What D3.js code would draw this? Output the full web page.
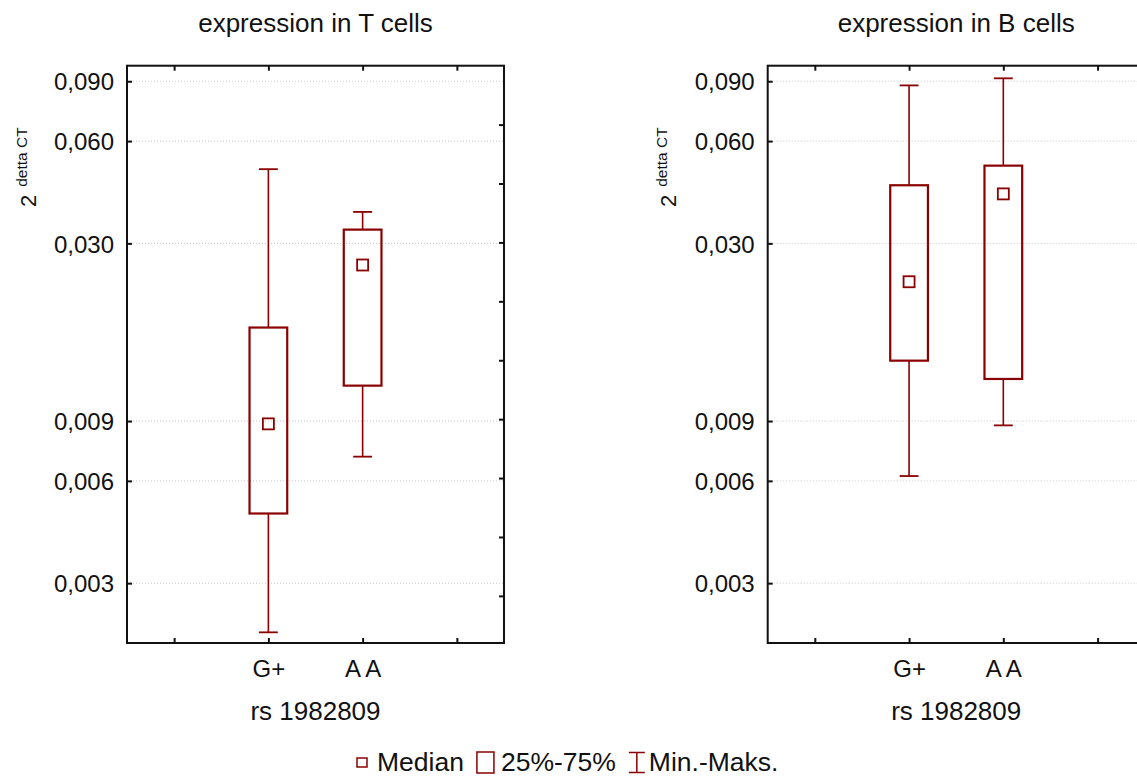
<!DOCTYPE html>
<html>
<head>
<meta charset="utf-8">
<script src="https://cdn.jsdelivr.net/npm/d3@7"></script>
<style>
  html, body { margin: 0; padding: 0; background: #fff; }
  svg { display: block; font-family: "Liberation Sans", Arial, sans-serif; }
</style>
</head>
<body>
<svg id="chart" width="1137" height="776"></svg>
<script>
// ---------- data ----------
const categories = ["G+", "A A"];
const panelTitles = ["expression in T cells", "expression in B cells"];
const xAxisTitle = "rs 1982809";

// T cells
const tMin = [0.00215, 0.00707];
const tQ1  = [0.00481, 0.01144];
const tMed = [0.00883, 0.02591];
const tQ3  = [0.01696, 0.03293];
const tMax = [0.0496, 0.03713];

// B cells
const bMin = [0.0062, 0.00874];
const bQ1  = [0.01355, 0.01197];
const bMed = [0.02313, 0.04195];
const bQ3  = [0.04448, 0.0508];
const bMax = [0.0875, 0.0918];

const yTicks = [0.003, 0.006, 0.009, 0.03, 0.06, 0.09];
const yTickLabels = ["0,003", "0,006", "0,009", "0,030", "0,060", "0,090"];
const yDomain = [0.002, 0.1];
const legendLabels = ["Median", "25%-75%", "Min.-Maks."];

// ---------- layout ----------
const color = "#8b0000";
const svg = d3.select("#chart");
const plotW = 377, plotH = 577.3, plotTop = 65.7;
const panelLeft = [127, 767.7];

const panels = [
  { title: panelTitles[0], min: tMin, q1: tQ1, med: tMed, q3: tQ3, max: tMax },
  { title: panelTitles[1], min: bMin, q1: bQ1, med: bMed, q3: bQ3, max: bMax }
];

panels.forEach((p, pi) => {
  const g = svg.append("g").attr("transform", `translate(${panelLeft[pi]},${plotTop})`);
  const y = d3.scaleLog().domain(yDomain).range([plotH, 0]);
  const yLin = d3.scaleLinear().domain(yDomain).range([plotH, 0]);
  const x = d3.scaleLinear().domain([0, 4]).range([0, plotW]);
  const catPos = categories.map((c, i) => i + 1.5);
  const frameTicks = [0.5, 1.5, 2.5, 3.5];

  // grid
  g.append("g").selectAll("line").data(yTicks).join("line")
    .attr("x1", 0).attr("x2", plotW)
    .attr("y1", d => y(d)).attr("y2", d => y(d))
    .attr("stroke", "#c8c8c8").attr("stroke-width", 1)
    .attr("stroke-dasharray", "1,2");

  // left axis
  const ya = g.append("g").call(
    d3.axisLeft(y).tickValues(yTicks)
      .tickFormat((d, i) => yTickLabels[i])
      .tickSizeInner(-5).tickSizeOuter(0).tickPadding(13)
  );
  ya.select(".domain").remove();
  ya.selectAll(".tick line").attr("stroke", "#111").attr("stroke-width", 2);
  ya.selectAll(".tick text").attr("font-size", 24).attr("fill", "#111")
    .attr("font-family", "Liberation Sans, Arial, sans-serif").attr("dy", "0.36em");

  // right axis (linear ticks)
  const yr = g.append("g").attr("transform", `translate(${plotW},0)`).call(
    d3.axisRight(yLin).tickValues(d3.range(0.01, 0.0951, 0.01))
      .tickFormat("").tickSizeInner(-5).tickSizeOuter(0)
  );
  yr.select(".domain").remove();
  yr.selectAll(".tick line").attr("stroke", "#111").attr("stroke-width", 2);

  // top axis ticks
  const xt = g.append("g").call(
    d3.axisTop(x).tickValues(frameTicks).tickFormat("").tickSizeInner(-5).tickSizeOuter(0)
  );
  xt.select(".domain").remove();
  xt.selectAll(".tick line").attr("stroke", "#111").attr("stroke-width", 2);

  // bottom axis ticks + labels
  const xb = g.append("g").attr("transform", `translate(0,${plotH})`).call(
    d3.axisBottom(x).tickValues(frameTicks)
      .tickFormat(d => { const i = catPos.indexOf(d); return i >= 0 ? categories[i] : ""; })
      .tickSizeInner(-5).tickSizeOuter(0).tickPadding(17)
  );
  xb.select(".domain").remove();
  xb.selectAll(".tick line").attr("stroke", "#111").attr("stroke-width", 2);
  xb.selectAll(".tick text").attr("font-size", 24).attr("fill", "#111")
    .attr("font-family", "Liberation Sans, Arial, sans-serif").attr("dy", "0.71em");

  // frame
  g.append("rect").attr("x", 0).attr("y", 0).attr("width", plotW).attr("height", plotH)
    .attr("fill", "none").attr("stroke", "#111").attr("stroke-width", 2);

  // boxes
  const boxHalf = (x(0.4) - x(0)) / 2;
  const capHalf = (x(0.2) - x(0)) / 2;
  const sq = 11;
  categories.forEach((c, i) => {
    const cx = x(catPos[i]);
    const bg = g.append("g");
    bg.append("line").attr("x1", cx).attr("x2", cx).attr("y1", y(p.max[i])).attr("y2", y(p.q3[i]))
      .attr("stroke", color).attr("stroke-width", 1.6);
    bg.append("line").attr("x1", cx).attr("x2", cx).attr("y1", y(p.q1[i])).attr("y2", y(p.min[i]))
      .attr("stroke", color).attr("stroke-width", 1.6);
    bg.append("line").attr("x1", cx - capHalf).attr("x2", cx + capHalf)
      .attr("y1", y(p.max[i])).attr("y2", y(p.max[i])).attr("stroke", color).attr("stroke-width", 1.8);
    bg.append("line").attr("x1", cx - capHalf).attr("x2", cx + capHalf)
      .attr("y1", y(p.min[i])).attr("y2", y(p.min[i])).attr("stroke", color).attr("stroke-width", 1.8);
    bg.append("rect").attr("x", cx - boxHalf).attr("width", boxHalf * 2)
      .attr("y", y(p.q3[i])).attr("height", y(p.q1[i]) - y(p.q3[i]))
      .attr("fill", "none").attr("stroke", color).attr("stroke-width", 2.2);
    bg.append("rect").attr("x", cx - sq / 2).attr("y", y(p.med[i]) - sq / 2)
      .attr("width", sq).attr("height", sq)
      .attr("fill", "none").attr("stroke", color).attr("stroke-width", 1.8);
  });

  // titles
  g.append("text").attr("x", plotW / 2).attr("y", 32 - plotTop).attr("text-anchor", "middle")
    .attr("font-size", 26).attr("fill", "#111").text(p.title);
  g.append("text").attr("x", plotW / 2).attr("y", 720 - plotTop).attr("text-anchor", "middle")
    .attr("font-size", 26).attr("fill", "#111").text(xAxisTitle);

  // y label
  const yl = g.append("text").attr("transform", `translate(-91.3,${207 - plotTop}) rotate(-90)`)
    .attr("fill", "#111");
  yl.append("tspan").attr("font-size", 22).text("2");
  yl.append("tspan").attr("font-size", 15.5).attr("dx", 8).attr("dy", -9).text("detta CT");
});

// ---------- legend ----------
const lg = svg.append("g");
const baseY = 771;
const lfs = 26.5;
let lx = 357;
lg.append("rect").attr("x", lx).attr("y", 758).attr("width", 10).attr("height", 9)
  .attr("fill", "none").attr("stroke", color).attr("stroke-width", 1.5);
lx += 10 + 10;
const t1 = lg.append("text").attr("x", lx).attr("y", baseY).attr("font-size", lfs).attr("fill", "#111").text(legendLabels[0]);
lx += t1.node().getComputedTextLength() + 13;
lg.append("rect").attr("x", lx).attr("y", 752).attr("width", 17).attr("height", 21)
  .attr("fill", "none").attr("stroke", color).attr("stroke-width", 1.5);
lx += 17 + 7;
const t2 = lg.append("text").attr("x", lx).attr("y", baseY).attr("font-size", lfs).attr("fill", "#111").text(legendLabels[1]);
lx += t2.node().getComputedTextLength() + 13;
const wx = lx + 8;
lg.append("line").attr("x1", wx).attr("x2", wx).attr("y1", 752).attr("y2", 773).attr("stroke", color).attr("stroke-width", 1.5);
lg.append("line").attr("x1", wx - 8).attr("x2", wx + 8).attr("y1", 752.5).attr("y2", 752.5).attr("stroke", color).attr("stroke-width", 1.5);
lg.append("line").attr("x1", wx - 8).attr("x2", wx + 8).attr("y1", 772.5).attr("y2", 772.5).attr("stroke", color).attr("stroke-width", 1.5);
lx += 17 + 3;
lg.append("text").attr("x", lx).attr("y", baseY).attr("font-size", lfs).attr("fill", "#111").text(legendLabels[2]);
</script>
</body>
</html>
